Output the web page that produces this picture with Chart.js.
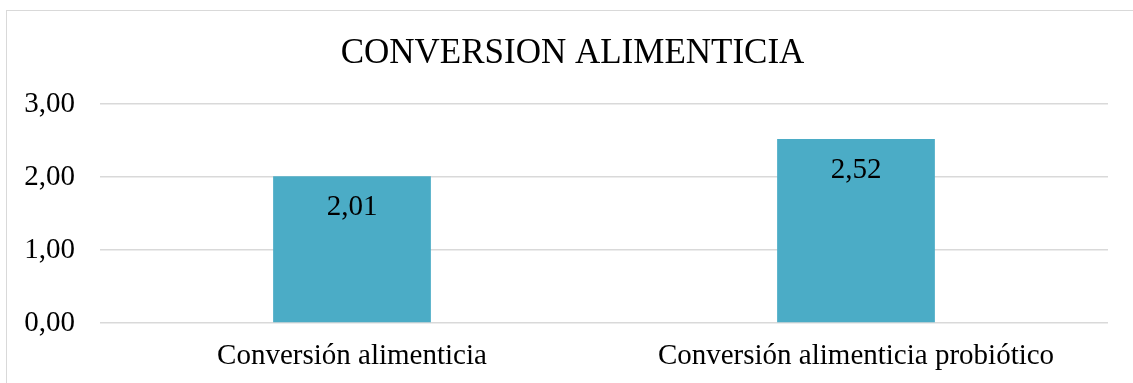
<!DOCTYPE html>
<html>
<head>
<meta charset="utf-8">
<script src="https://cdn.jsdelivr.net/npm/chart.js@4/dist/chart.umd.min.js"></script>
<style>
  html, body { margin: 0; padding: 0; background: #fff; overflow: hidden; }
  #frame {
    position: absolute; left: 6px; top: 10px;
    width: 1200px; height: 420px;
    border: 1px solid #d9d9d9;
  }
  #wrap { position: absolute; left: 0; top: 0; width: 1133px; height: 383px; }
</style>
</head>
<body>
<div id="frame"></div>
<div id="wrap"><canvas id="chart"></canvas></div>
<script>
/* Data */
const categories = ["Conversión alimenticia", "Conversión alimenticia probiótico"];
const values = [2.01, 2.52];
const yTicks = [0, 1, 2, 3];
const chartTitle = "CONVERSION ALIMENTICIA";

const FONT = "'Liberation Serif', 'Times New Roman', serif";
const fmt = v => v.toFixed(2).replace(".", ",");

/* title centred on the outer frame, not on the plot */
const frameTitle = {
    id: "frameTitle",
    afterDraw(chart) {
        const ctx = chart.ctx;
        ctx.save();
        ctx.font = "35px " + FONT;
        ctx.fillStyle = "#000";
        ctx.textAlign = "center";
        ctx.textBaseline = "middle";
        ctx.fillText(chartTitle, chart.width / 2 + 6, 54);
        ctx.restore();
    }
};

/* value labels inside the top of each bar */
const barLabels = {
    id: "barLabels",
    afterDatasetsDraw(chart) {
        const ctx = chart.ctx;
        const meta = chart.getDatasetMeta(0);
        ctx.save();
        ctx.font = "29px " + FONT;
        ctx.fillStyle = "#000";
        ctx.textAlign = "center";
        ctx.textBaseline = "middle";
        meta.data.forEach((bar, i) => {
            ctx.fillText(fmt(values[i]), bar.x, bar.y + 31);
        });
        ctx.restore();
    }
};

new Chart(document.getElementById("chart"), {
    type: "bar",
    data: {
        labels: categories,
        datasets: [{
            data: values,
            backgroundColor: "#4bacc6",
            borderWidth: 0,
            categoryPercentage: 1,
            barPercentage: 0.313
        }]
    },
    options: {
        responsive: true,
        maintainAspectRatio: false,
        animation: false,
        layout: { padding: { left: 0, right: 25, top: 104, bottom: 0 } },
        plugins: {
            legend: { display: false },
            tooltip: { enabled: false },
            title: { display: false }
        },
        scales: {
            x: {
                grid: { display: false, drawTicks: false },
                border: { display: false },
                ticks: {
                    color: "#000",
                    font: { family: FONT, size: 29 },
                    padding: 16,
                    maxRotation: 0
                },
                afterFit: s => { s.height = 60; }
            },
            y: {
                min: 0,
                max: 3,
                afterBuildTicks: s => { s.ticks = yTicks.map(v => ({ value: v })); },
                grid: { color: "#d9d9d9", lineWidth: 1.5, drawTicks: false },
                border: { display: false },
                ticks: {
                    color: "#000",
                    font: { family: FONT, size: 29 },
                    padding: 25,
                    callback: v => fmt(v)
                },
                afterFit: s => { s.width = 100; }
            }
        }
    },
    plugins: [barLabels, frameTitle]
});
</script>
</body>
</html>
